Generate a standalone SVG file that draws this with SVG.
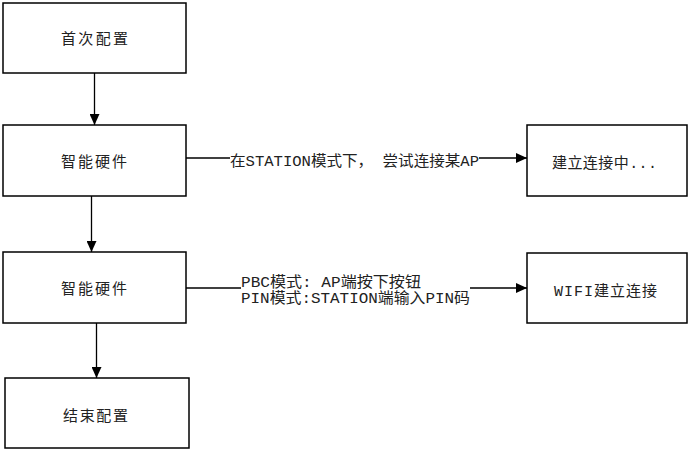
<svg xmlns="http://www.w3.org/2000/svg" width="689" height="451" viewBox="0 0 689 451">
<style>
.box{fill:#fff;stroke:#000;stroke-width:1.5}
.t{font-family:"Liberation Mono","Noto Sans CJK SC",monospace;font-size:15px;fill:#222}
.c{stroke:#000;stroke-width:1.3;fill:none}
</style>
<defs>
<marker id="ah" markerUnits="userSpaceOnUse" markerWidth="12" markerHeight="10" refX="11" refY="5" orient="auto">
<path d="M0,0 L11,5 L0,10 z" fill="#000"/>
</marker>
</defs>
<rect width="689" height="451" fill="#fff"/>
<g id="connectors">
<path class="c" d="M94.5,73 V125" marker-end="url(#ah)"/>
<path class="c" d="M91.5,196 V252" marker-end="url(#ah)"/>
<path class="c" d="M96.5,323 V378" marker-end="url(#ah)"/>
<path class="c" d="M186,158 H230"/>
<path class="c" d="M479,158 H527" marker-end="url(#ah)"/>
<text class="t" x="230" y="166" textLength="249" lengthAdjust="spacingAndGlyphs">在STATION模式下， 尝试连接某AP</text>
<path class="c" d="M186,288 H241"/>
<path class="c" d="M470,288 H527" marker-end="url(#ah)"/>
<text class="t" x="241" y="287" textLength="180" lengthAdjust="spacingAndGlyphs">PBC模式: AP端按下按钮</text>
<text class="t" x="241" y="303" textLength="229" lengthAdjust="spacingAndGlyphs">PIN模式:STATION端输入PIN码</text>
</g>
<g id="n1">
<rect class="box" x="3" y="3" width="183" height="70"/>
<text class="t" x="61" y="43.5" textLength="67" lengthAdjust="spacing">首次配置</text>
</g>
<g id="n2">
<rect class="box" x="3" y="125" width="183" height="71"/>
<text class="t" x="61" y="167" textLength="66" lengthAdjust="spacing">智能硬件</text>
</g>
<g id="n3">
<rect class="box" x="527" y="125" width="160" height="71"/>
<text class="t" x="552" y="167.5" textLength="105" lengthAdjust="spacing">建立连接中...</text>
</g>
<g id="n4">
<rect class="box" x="3" y="252" width="183" height="71"/>
<text class="t" x="61" y="293.5" textLength="66" lengthAdjust="spacing">智能硬件</text>
</g>
<g id="n5">
<rect class="box" x="527" y="253" width="160" height="70"/>
<text class="t" x="554" y="295.5" textLength="103" lengthAdjust="spacing">WIFI建立连接</text>
</g>
<g id="n6">
<rect class="box" x="5" y="378" width="184" height="70"/>
<text class="t" x="63" y="420.5" textLength="65" lengthAdjust="spacing">结束配置</text>
</g>
</svg>
